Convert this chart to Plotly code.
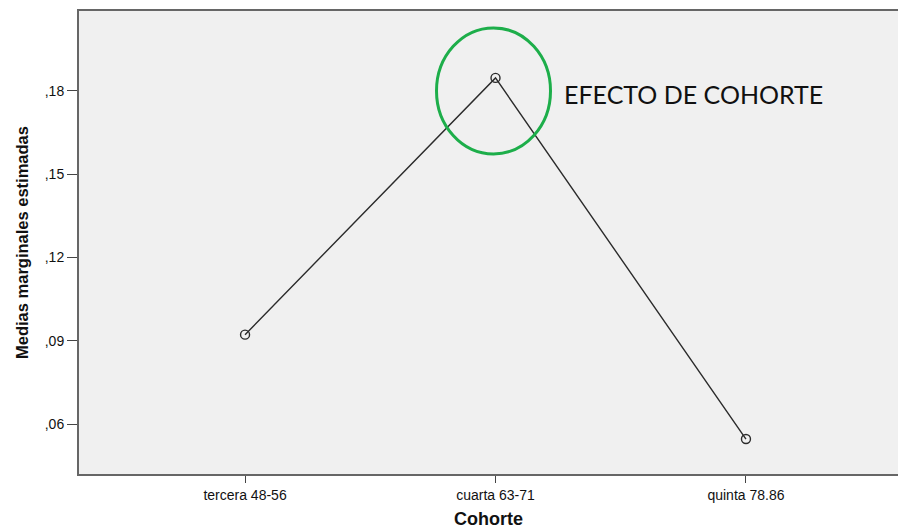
import plotly.graph_objects as go

categories = ["tercera 48-56", "cuarta 63-71", "quinta 78.86"]
values = [0.0922, 0.1847, 0.0546]
y_ticks = [0.06, 0.09, 0.12, 0.15, 0.18]
y_tick_labels = [",06", ",09", ",12", ",15", ",18"]
annotation_text = "EFECTO DE COHORTE"

xpos = list(range(len(categories)))

fig = go.Figure()
fig.add_trace(go.Scatter(
    x=xpos, y=values, mode="lines+markers",
    line=dict(color="#2b2b2b", width=1.4),
    marker=dict(symbol="circle-open", size=9, color="#2b2b2b", line=dict(width=1.4)),
    hoverinfo="skip", showlegend=False,
))

peak_i = values.index(max(values))
fig.add_shape(
    type="circle", xref="x", yref="y",
    xsizemode="pixel", ysizemode="pixel",
    xanchor=xpos[peak_i], yanchor=values[peak_i],
    x0=-59, x1=55, y0=-76, y1=50,
    line=dict(color="#1dae4a", width=3),
)
fig.add_annotation(
    x=xpos[peak_i], y=values[peak_i], xref="x", yref="y",
    text=annotation_text, showarrow=False,
    xanchor="left", yanchor="middle", xshift=66, yshift=-16,
    font=dict(family="Lato, Open Sans, sans-serif", size=25, color="#111111"),
)

fig.update_layout(
    width=898, height=529,
    margin=dict(l=79, r=0, t=11, b=55),
    paper_bgcolor="white", plot_bgcolor="#f0f0f0",
    font=dict(family="Liberation Sans, Arial, sans-serif", color="#111111"),
)
fig.update_xaxes(
    range=[-0.663, 2.607], tickvals=xpos, ticktext=categories,
    showgrid=False, zeroline=False,
    showline=True, mirror=True, linecolor="#666666", linewidth=2,
    ticks="outside", ticklen=7, tickcolor="#444444", tickwidth=1,
    tickfont=dict(size=14, color="#111111"),
    title=dict(text="<b>Cohorte</b>", font=dict(size=18, color="#111111"), standoff=11),
)
fig.update_yaxes(
    range=[0.042, 0.2088], tickvals=y_ticks, ticktext=y_tick_labels,
    showgrid=False, zeroline=False,
    showline=True, mirror=False, linecolor="#666666", linewidth=2,
    ticks="outside", ticklen=10, tickcolor="#444444", tickwidth=1,
    tickfont=dict(size=14, color="#111111"),
    title=dict(text="<b>Medias marginales estimadas</b>",
               font=dict(family="Liberation Sans Narrow, Arial Narrow, sans-serif", size=16.5, color="#111111"),
               standoff=12),
)

fig.write_html(
    "out.html",
    config={"displayModeBar": False},
    post_script="document.body.style.margin='0';document.body.style.overflow='hidden';",
)
